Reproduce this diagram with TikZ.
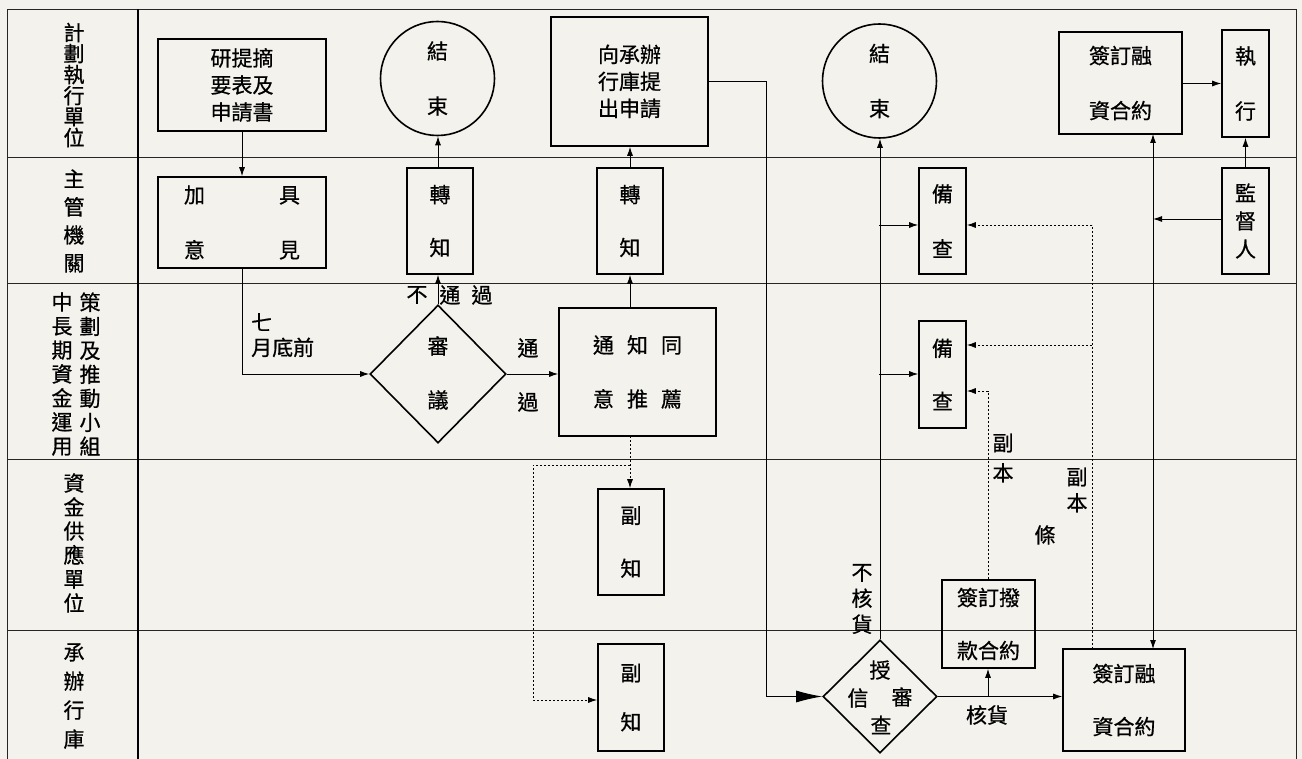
\documentclass[tikz,border=0pt]{standalone}
\usepackage{fontspec}
\newfontfamily\cjk[FakeBold=0.7]{Noto Sans CJK TC}
\usetikzlibrary{arrows.meta,shapes.geometric,calc}
\definecolor{paper}{RGB}{243,242,236}
\newcommand{\fs}[1]{\cjk\fontsize{21}{#1}\selectfont}
\begin{document}
\begin{tikzpicture}[x=1pt,y=-1pt,
  grid/.style={line width=0.9pt,black!85},
  box/.style={draw,line width=1.6pt,inner sep=0pt,align=center,font=\fs{27}},
  wh/.style 2 args={minimum width=#1,minimum height=#2},
  circ/.style={draw,circle,line width=1.6pt,inner sep=0pt,minimum size=114pt,align=center,font=\fs{55}},
  dia/.style={draw,diamond,line width=1.6pt,inner sep=0pt},
  lab/.style={inner sep=0pt,align=center},
  conn/.style={line width=0.9pt,-{Latex[length=9pt,width=6pt]}},
  line/.style={line width=0.9pt},
  dot/.style={line width=0.9pt,dash pattern=on 2pt off 2pt},
  dotarr/.style={dot,-{Latex[length=9pt,width=6pt]}},
]
\fill[paper] (0,0) rectangle (1302,759);
\useasboundingbox (0,0) rectangle (1302,759);
% frame
\draw[grid] (7,759) -- (7,9) -- (1296,9) -- (1296,759);
\foreach \y in {157,283,459,630} \draw[grid] (7,\y) -- (1296,\y);
\draw[line width=2pt] (138,9) -- (138,759);
% row labels
\node[lab,font=\fs{21}] (l1) at (74,85) {計\\劃\\執\\行\\單\\位};
\node[lab,font=\fs{28}] (l2) at (74,221) {主\\管\\機\\關};
\node[lab,font=\fs{24}] (l3a) at (62,374) {中\\長\\期\\資\\金\\運\\用};
\node[lab,font=\fs{24}] (l3b) at (90,374) {策\\劃\\及\\推\\動\\小\\組};
\node[lab,font=\fs{24}] (l4) at (74,543) {資\\金\\供\\應\\單\\位};
\node[lab,font=\fs{29}] (l5) at (74,696) {承\\辦\\行\\庫};
% nodes
\node[box,wh={168pt}{92pt}] (A) at (242,85) {研提摘\\要表及\\申請書};
\node[box,wh={168pt}{91pt},font=\fs{55}] (B) at (242,222.5) {加\hspace{74pt}具\\意\hspace{74pt}見};
\node[box,wh={66pt}{106pt},font=\fs{53}] (C) at (440,221) {轉\\知};
\node[circ] (D) at (437.5,78.5) {結\\束};
\node[dia,minimum width=136pt,minimum height=138pt] (E) at (438,374) {};
\node[lab,font=\fs{54}] (Et) at (438,373) {審\\議};
\node[box,wh={157pt}{128pt},font=\fs{54}] (F) at (637.5,372) {通\hspace{13pt}知\hspace{13pt}同\\意\hspace{13pt}推\hspace{13pt}薦};
\node[box,wh={66pt}{106pt},font=\fs{53}] (G) at (630,221) {轉\\知};
\node[box,wh={157pt}{129pt}] (H) at (629.5,81.5) {向承辦\\行庫提\\出申請};
\node[box,wh={66pt}{106pt},font=\fs{53}] (I) at (631,542) {副\\知};
\node[box,wh={66pt}{107pt},font=\fs{49}] (J) at (631,697.5) {副\\知};
\node[dia,minimum width=114pt,minimum height=113pt] (K) at (880,696.5) {};
\node[lab,font=\fs{21}] (Kt1) at (880,670) {授};
\node[lab,font=\fs{21}] (Kt2) at (858,698) {信};
\node[lab,font=\fs{21}] (Kt3) at (902,697) {審};
\node[lab,font=\fs{21}] (Kt4) at (881,725) {查};
\node[box,wh={93pt}{88pt},font=\fs{53}] (L) at (988.5,624) {簽訂撥\\款合約};
\node[box,wh={122pt}{102pt},font=\fs{53}] (M) at (1124,700) {簽訂融\\資合約};
\node[circ] (N) at (879.5,81) {結\\束};
\node[box,wh={47pt}{106pt},font=\fs{55}] (O) at (942.5,221) {備\\查};
\node[box,wh={47pt}{107pt},font=\fs{53}] (P) at (942.5,374.5) {備\\查};
\node[box,wh={123pt}{102pt},font=\fs{55}] (Q) at (1120.5,83) {簽訂融\\資合約};
\node[box,wh={47pt}{107pt},font=\fs{55}] (R) at (1245.5,83.5) {執\\行};
\node[box,wh={47pt}{106pt},font=\fs{28}] (S) at (1245.5,221) {監\\督\\人};
% labels
\node[lab,font=\fs{25},align=left,anchor=north west] (t7) at (251,313) {七\\月底前};
\node[lab,font=\fs{21}] (n1) at (417,295) {不};
\node[lab,font=\fs{21}] (n2) at (450,295) {通};
\node[lab,font=\fs{21}] (n3) at (482,295) {過};
\node[lab,font=\fs{54}] (tg) at (528,375) {通\\過};
\node[lab,font=\fs{26}] (bh) at (862,599) {不\\核\\貨};
\node[lab,font=\fs{21}] (hh) at (987,715) {核貨};
\node[lab,font=\fs{30}] (fb1) at (1003,458) {副\\本};
\node[lab,font=\fs{26}] (fb2) at (1077,490) {副\\本};
\node[lab,font=\fs{21}] (tiao) at (1045,535) {條};
% coordinates
\coordinate (hk) at (766,81.5);
\coordinate (fx) at (630,436);
\coordinate (d1) at (630,465);
\coordinate (d2) at (533,465);
\coordinate (d3) at (533,700);
\coordinate (v1) at (879,225);
\coordinate (v2) at (879,374);
\coordinate (k1) at (988,697);
\coordinate (p1) at (988,391);
\coordinate (m1) at (1092,649);
\coordinate (m2) at (1092,225);
\coordinate (m3) at (1092,345);
\coordinate (q1) at (1153,134);
\coordinate (q2) at (1153,649);
\coordinate (s1) at (1153,219);
% connectors
\draw[conn] (A.south) -- (B.north);
\draw[conn] (B.south) |- (E.west);
\draw[conn] (E.north) -- (E.north |- C.south);
\draw[conn] (E.north |- C.north) -- (E.north |- D.south);
\draw[conn] (E.east) -- (E.east -| F.west);
\draw[conn] (G.south |- F.north) -- (G.south);
\draw[conn] (G.north) -- (G.north |- H.south);
\draw[line width=0.9pt,-{Latex[length=26pt,width=12pt]}] (H.east |- hk) -- (hk) |- (K.west);
\draw[dotarr] (fx) -- (fx |- I.north);
\draw[dotarr] (d1) -- (d2) -- (d3) -- (d3 -| J.west);
\draw[conn] (K.north) -- (K.north |- N.south);
\draw[conn] (v1) -- (v1 -| O.west);
\draw[conn] (v2) -- (v2 -| P.west);
\draw[conn] (K.east) -- (K.east -| M.west);
\draw[conn] (k1) -- (k1 |- L.south);
\draw[dotarr] (k1 |- L.north) -- (p1) -- (p1 -| P.east);
\draw[dot] (m1) -- (m2);
\draw[dotarr] (m2) -- (m2 -| O.east);
\draw[dotarr] (m3) -- (m3 -| P.east);
\draw[line width=0.9pt,{Latex[length=9pt,width=6pt]}-{Latex[length=9pt,width=6pt]}] (q1) -- (q2);
\draw[conn] (S.west |- s1) -- (s1);
\draw[conn] (S.north) -- (R.south);
\draw[conn] (Q.east |- R.west) -- (R.west);
\end{tikzpicture}
\end{document}
